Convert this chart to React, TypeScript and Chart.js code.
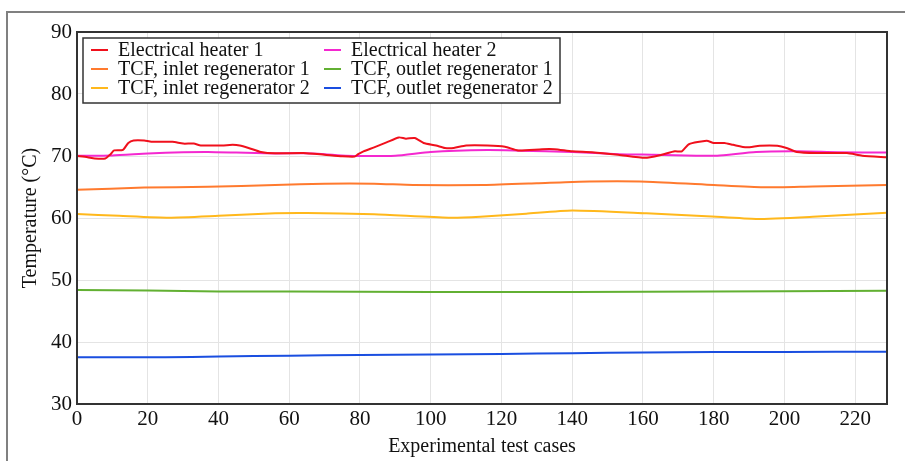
import React, { useEffect, useRef } from "react";
import { Chart, registerables } from "chart.js";

Chart.register(...registerables);

const heater1X = [0, 3, 5, 8, 9.5, 10.5, 13, 14.5, 16, 19, 21, 27, 30, 33, 35, 41, 44, 46, 48.5, 52, 56, 64, 70, 75, 78.5, 79.5, 81, 84, 87.5, 91, 93, 95.5, 98, 101.5, 104, 106.5, 110, 116, 121, 124.7, 131.5, 135, 140, 145.6, 153, 160.6, 165.3, 169, 171, 173, 178, 180, 183, 185.5, 189.3, 193, 198, 200.6, 203.5, 209, 217.7, 222, 229];
const heater1Y = [70.0, 69.8, 69.6, 69.6, 70.3, 70.9, 71.0, 72.1, 72.5, 72.5, 72.3, 72.3, 72.0, 72.0, 71.7, 71.7, 71.8, 71.7, 71.3, 70.65, 70.43, 70.48, 70.2, 69.95, 69.9, 70.3, 70.75, 71.4, 72.2, 73.0, 72.8, 72.9, 72.1, 71.7, 71.3, 71.3, 71.7, 71.7, 71.5, 70.9, 71.1, 71.1, 70.75, 70.6, 70.2, 69.7, 70.2, 70.75, 70.75, 71.9, 72.45, 72.1, 72.1, 71.8, 71.4, 71.65, 71.65, 71.3, 70.65, 70.48, 70.48, 70.05, 69.8];

const heater2X = [0, 10, 20, 30, 37, 45, 56, 64, 70, 76, 90, 100, 116, 125, 140, 153, 163, 175, 181, 192, 204, 215, 229];
const heater2Y = [70.05, 70.1, 70.4, 70.6, 70.65, 70.55, 70.4, 70.45, 70.3, 70.05, 70.05, 70.65, 70.95, 70.86, 70.65, 70.3, 70.2, 70.05, 70.05, 70.65, 70.75, 70.6, 70.55];

const inlet1X = [0, 19, 37, 56, 70, 84, 95, 115, 130, 142, 161, 180, 194, 208, 229];
const inlet1Y = [64.55, 64.9, 65.05, 65.32, 65.53, 65.53, 65.32, 65.32, 65.6, 65.86, 65.86, 65.32, 64.95, 65.1, 65.32];

const outlet1X = [0, 20, 40, 80, 120, 160, 200, 229];
const outlet1Y = [48.4, 48.3, 48.15, 48.12, 48.05, 48.1, 48.2, 48.28];

const inlet2X = [0, 12, 26, 40, 56, 65, 84, 105, 114, 127, 140, 161, 178, 192, 208, 229];
const inlet2Y = [60.65, 60.35, 60.05, 60.35, 60.75, 60.8, 60.6, 60.05, 60.2, 60.7, 61.2, 60.75, 60.3, 59.85, 60.2, 60.86];

const outlet2X = [0, 25, 40, 60, 80, 100, 120, 140, 160, 180, 200, 229];
const outlet2Y = [37.53, 37.55, 37.65, 37.8, 37.9, 38.0, 38.06, 38.2, 38.3, 38.4, 38.4, 38.44];

const seriesLabels = [
  "Electrical heater 1",
  "Electrical heater 2",
  "TCF, inlet regenerator 1",
  "TCF, outlet regenerator 1",
  "TCF, inlet regenerator 2",
  "TCF, outlet regenerator 2",
];
const seriesColors = ["#f0101c", "#f428d0", "#ff7a2e", "#62b032", "#ffb81c", "#1a4ee0"];

const xMin = 0;
const xMax = 229;
const xTickValues = [0, 20, 40, 60, 80, 100, 120, 140, 160, 180, 200, 220];
const yMin = 30;
const yMax = 90;
const yTickValues = [30, 40, 50, 60, 70, 80, 90];

const FONT = '"Liberation Serif", "Times New Roman", serif';

const zip = (xs: number[], ys: number[]) => xs.map((x, i) => ({ x, y: ys[i] }));

const frameAndLegend = {
  id: "frameAndLegend",
  afterDraw(chart: any) {
    const { ctx, chartArea } = chart;
    ctx.save();
    ctx.strokeStyle = "#333";
    ctx.lineWidth = 2;
    ctx.strokeRect(chartArea.left, chartArea.top, chartArea.right - chartArea.left, chartArea.bottom - chartArea.top);

    const x0 = chartArea.left + 6;
    const y0 = chartArea.top + 6;
    const w = 477;
    const h = 65;
    ctx.fillStyle = "#fff";
    ctx.fillRect(x0, y0, w, h);
    ctx.strokeStyle = "#333";
    ctx.lineWidth = 1.5;
    ctx.strokeRect(x0, y0, w, h);
    ctx.font = "20px " + FONT;
    ctx.textBaseline = "middle";
    ctx.textAlign = "left";
    chart.data.datasets.forEach((d: any, i: number) => {
      const col = i % 2;
      const row = Math.floor(i / 2);
      const lx = x0 + 8 + col * 233;
      const ly = y0 + 12 + row * 19;
      ctx.strokeStyle = d.borderColor;
      ctx.lineWidth = 2;
      ctx.beginPath();
      ctx.moveTo(lx, ly);
      ctx.lineTo(lx + 17, ly);
      ctx.stroke();
      ctx.fillStyle = "#111";
      ctx.fillText(d.label, lx + 27, ly + 1);
    });
    ctx.restore();
  },
};

export default function App() {
  const ref = useRef<HTMLCanvasElement | null>(null);
  useEffect(() => {
    document.body.style.margin = "0";
    if (!ref.current) return;
    const seriesData = [
      zip(heater1X, heater1Y),
      zip(heater2X, heater2Y),
      zip(inlet1X, inlet1Y),
      zip(outlet1X, outlet1Y),
      zip(inlet2X, inlet2Y),
      zip(outlet2X, outlet2Y),
    ];
    const chart = new Chart(ref.current, {
      type: "line",
      data: {
        datasets: seriesData.map((d, i) => ({
          label: seriesLabels[i],
          data: d,
          borderColor: seriesColors[i],
          backgroundColor: seriesColors[i],
          borderWidth: 2,
          pointRadius: 0,
          tension: 0.2,
          order: i,
        })),
      },
      options: {
        animation: false,
        responsive: false,
        maintainAspectRatio: false,
        layout: { padding: { top: 32, right: 18, left: 0, bottom: 0 } },
        plugins: { legend: { display: false }, tooltip: { enabled: false } },
        scales: {
          x: {
            type: "linear",
            min: xMin,
            max: xMax,
            afterFit: (s: any) => { s.height = 57; },
            afterBuildTicks: (s: any) => { s.ticks = xTickValues.map((v) => ({ value: v })); },
            ticks: { color: "#111", font: { family: FONT, size: 21 }, padding: 3, maxRotation: 0, autoSkip: false },
            grid: { color: "#e4e4e4", lineWidth: 1, drawTicks: false },
            border: { display: false },
            title: { display: true, text: "Experimental test cases", color: "#111", font: { family: FONT, size: 20 }, padding: { top: 0, bottom: 2 } },
          },
          y: {
            type: "linear",
            min: yMin,
            max: yMax,
            afterFit: (s: any) => { s.width = 77; },
            afterBuildTicks: (s: any) => { s.ticks = yTickValues.map((v) => ({ value: v })); },
            ticks: { color: "#111", font: { family: FONT, size: 21 }, padding: 5, autoSkip: false },
            grid: { color: "#e4e4e4", lineWidth: 1, drawTicks: false },
            border: { display: false },
            title: { display: true, text: "Temperature (°C)", color: "#111", font: { family: FONT, size: 20 }, padding: { top: 19, bottom: 0 } },
          },
        },
      },
      plugins: [frameAndLegend],
    });
    return () => chart.destroy();
  }, []);
  return (
    <div style={{ position: "relative", width: 905, height: 461, overflow: "hidden", background: "#fff" }}>
      <div style={{ position: "absolute", left: 6, top: 11, width: 1000, height: 1000, border: "2px solid #808080" }} />
      <canvas ref={ref} width={905} height={461} style={{ position: "absolute", left: 0, top: 0 }} />
    </div>
  );
}
